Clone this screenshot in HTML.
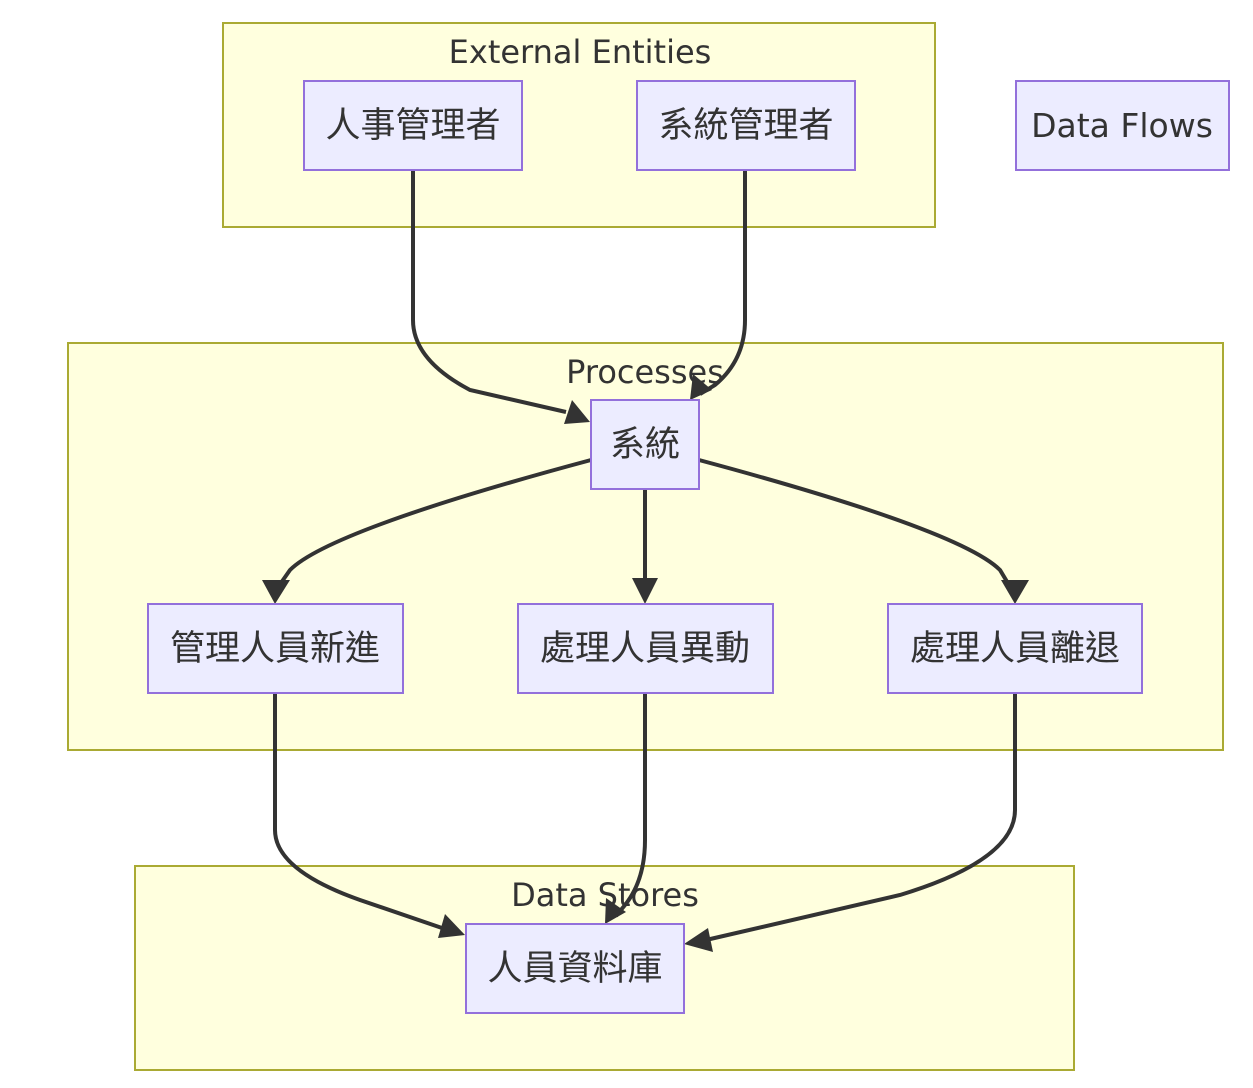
<!DOCTYPE html>
<html><head><meta charset="utf-8"><style>
html,body{margin:0;padding:0;background:#fff;}
svg text{font-family:"DejaVu Sans","Noto Sans CJK TC",sans-serif;fill:#333;}
</style></head><body>
<svg width="1253" height="1083" viewBox="0 0 1253 1083" xmlns="http://www.w3.org/2000/svg">
<g fill="#ffffde" stroke="#aaaa33" stroke-width="2">
<rect x="223" y="23" width="712" height="204"/>
<rect x="68" y="343" width="1155" height="407"/>
<rect x="135" y="866" width="939" height="204"/>
</g>
<g font-size="32" text-anchor="middle">
<text x="580" y="63">External Entities</text>
<text x="645" y="383">Processes</text>
<text x="605" y="906">Data Stores</text>
</g>
<g fill="none" stroke="#333" stroke-width="4">
<path d="M413,170 L413,320 Q413,360 470,390 L566,412"/>
<path d="M745,170 L745,320 Q745,360 715,385 L700,394"/>
<path d="M591,460 Q330,530 290,570 L276,590"/>
<path d="M645,489 L645,586"/>
<path d="M699,460 Q960,530 1000,570 L1012,590"/>
<path d="M275,693 L275,830 Q275,870 360,900 L442,928"/>
<path d="M645,693 L645,840 Q645,880 625,905 L616,916"/>
<path d="M1015,693 L1015,810 Q1015,860 900,895 L706,940"/>
</g>
<g fill="#333">
<polygon points="590,422 564,424 572,400"/>
<polygon points="690,400 693,374 712,390"/>
<polygon points="275,604 262,580 290,580"/>
<polygon points="645,604 632,578 658,578"/>
<polygon points="1015,604 1001,580 1029,580"/>
<polygon points="465,935 438,938 445,914"/>
<polygon points="605,924 606,898 626,912"/>
<polygon points="684,944 708,928 713,952"/>
</g>
<g fill="#ececff" stroke="#9370db" stroke-width="2">
<rect x="304" y="81" width="218" height="89"/>
<rect x="637" y="81" width="218" height="89"/>
<rect x="1016" y="81" width="213" height="89"/>
<rect x="591" y="400" width="108" height="89"/>
<rect x="148" y="604" width="255" height="89"/>
<rect x="518" y="604" width="255" height="89"/>
<rect x="888" y="604" width="254" height="89"/>
<rect x="466" y="924" width="218" height="89"/>
</g>
<g font-size="35" text-anchor="middle">
<text x="413" y="137">人事管理者</text>
<text x="746" y="137">系統管理者</text>
<text x="1122" y="137" font-size="33">Data Flows</text>
<text x="645" y="456">系統</text>
<text x="275" y="660">管理人員新進</text>
<text x="645" y="660">處理人員異動</text>
<text x="1015" y="660">處理人員離退</text>
<text x="575" y="980">人員資料庫</text>
</g>
</svg>
</body></html>
